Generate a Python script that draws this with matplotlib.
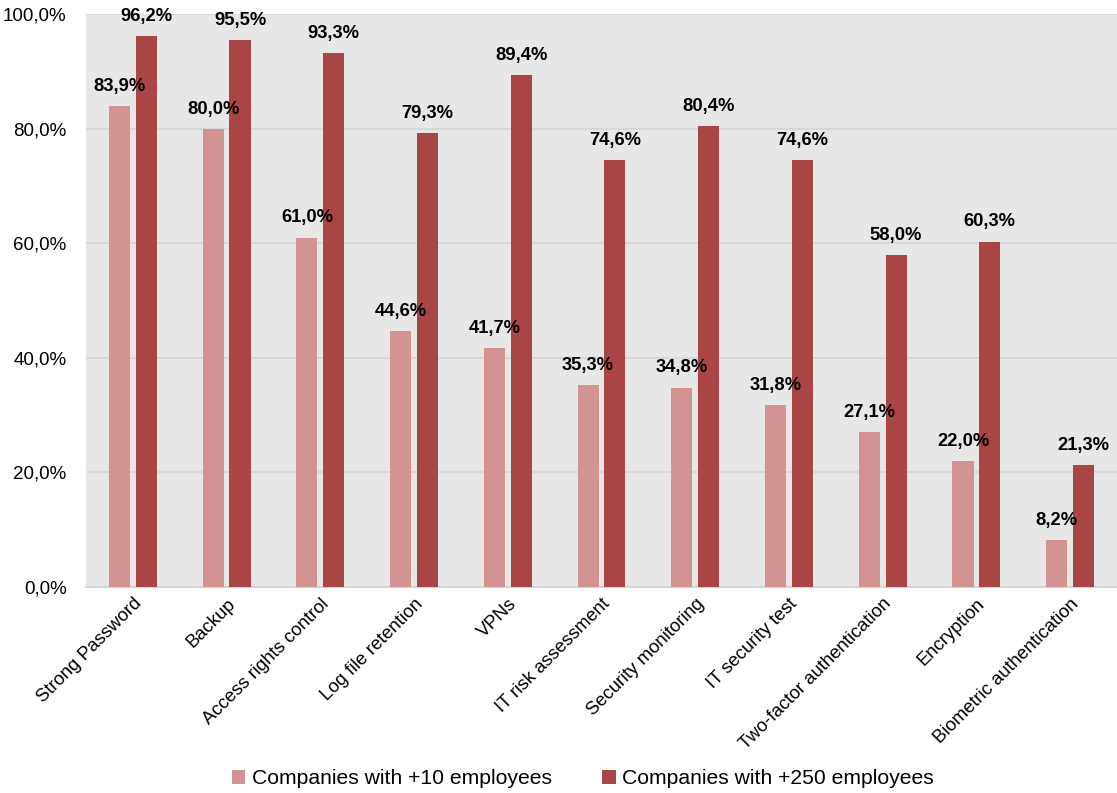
import matplotlib
matplotlib.use("Agg")
import matplotlib.pyplot as plt
import numpy as np
from matplotlib.ticker import FuncFormatter

categories = ["Strong Password", "Backup", "Access rights control", "Log file retention",
              "VPNs", "IT risk assessment", "Security monitoring", "IT security test",
              "Two-factor authentication", "Encryption", "Biometric authentication"]
small_firms = [83.9, 80.0, 61.0, 44.6, 41.7, 35.3, 34.8, 31.8, 27.1, 22.0, 8.2]
large_firms = [96.2, 95.5, 93.3, 79.3, 89.4, 74.6, 80.4, 74.6, 58.0, 60.3, 21.3]
series_names = ["Companies with +10 employees", "Companies with +250 employees"]
yticks = [0, 20, 40, 60, 80, 100]

plt.rcParams["font.family"] = ["Liberation Sans", "DejaVu Sans"]

fig = plt.figure(figsize=(11.17, 7.93), dpi=100)
ax = fig.add_axes([0.077, 0.26, 0.923, 0.722])

light = "#d39392"
dark = "#a94645"
x = np.arange(len(categories))
w = 0.225
off = 0.143

b1 = ax.bar(x - off, small_firms, w, color=light, label=series_names[0], zorder=3)
b2 = ax.bar(x + off, large_firms, w, color=dark, label=series_names[1], zorder=3)

for bars, vals in ((b1, small_firms), (b2, large_firms)):
    for r, v in zip(bars, vals):
        ax.annotate(f"{v:.1f}%".replace(".", ","),
                    (r.get_x() + r.get_width() / 2, v),
                    xytext=(0, 8), textcoords="offset points",
                    ha="center", va="bottom", fontsize=13.2, fontweight="bold", zorder=4)

ax.set_facecolor("#e7e7e7")
ax.set_xlim(-0.5, len(categories) - 0.5)
ax.set_ylim(0, 100)
ax.set_yticks(yticks)
ax.yaxis.set_major_formatter(FuncFormatter(lambda v, p: f"{v:.1f}%".replace(".", ",")))
ax.grid(axis="y", color="#d4d4d4", linewidth=1.2, zorder=0)
for s in ("top", "right", "left"):
    ax.spines[s].set_visible(False)
ax.spines["bottom"].set_color("#d4d4d4")
ax.spines["bottom"].set_linewidth(1.5)
ax.tick_params(axis="y", length=0, labelsize=13.5, pad=14)
ax.tick_params(axis="x", length=0, labelsize=13.3, pad=6)
ax.set_xticks(x)
ax.set_xticklabels(categories, rotation=45, ha="right", va="top", rotation_mode="anchor")

ax.legend(loc="lower center", bbox_to_anchor=(0.482, -0.385), ncol=2, frameon=False,
          fontsize=15.2, handlelength=0.65, handleheight=0.65, handletextpad=0.3,
          columnspacing=2.4)

fig.savefig("out.png", dpi=100)
